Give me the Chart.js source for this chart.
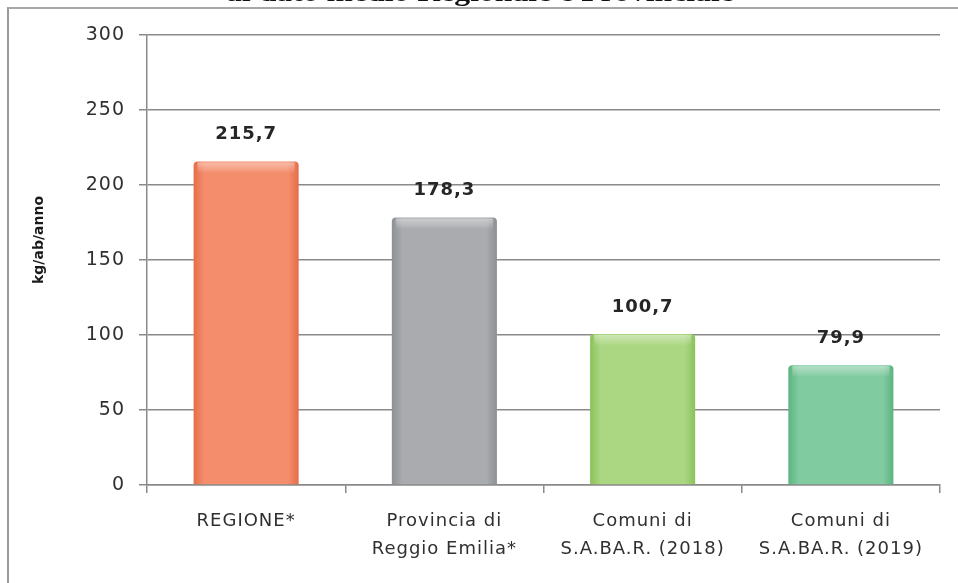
<!DOCTYPE html>
<html>
<head>
<meta charset="utf-8">
<script src="https://cdn.jsdelivr.net/npm/chart.js@4.4.0/dist/chart.umd.min.js"></script>
<style>
  body { margin: 0; background: #fff; }
  #wrap { position: relative; width: 958px; height: 583px; overflow: hidden; }
  #frame { position: absolute; left: 7px; top: 7px; right: -4px; bottom: -4px;
           border-left: 2px solid #9a9a9a; border-top: 2px solid #a8a8a8; }
  canvas { position: absolute; left: 0; top: 0; }
</style>
</head>
<body>
<div id="wrap">
  <div id="frame"></div>
  <canvas id="chart" width="958" height="583"></canvas>
</div>
<script>
// data
const categories = [
  'REGIONE*',
  ['Provincia di', 'Reggio Emilia*'],
  ['Comuni di', 'S.A.BA.R. (2018)'],
  ['Comuni di', 'S.A.BA.R. (2019)']
];
const values = [215.7, 178.3, 100.7, 79.9];
const yTicks = [0, 50, 100, 150, 200, 250, 300];
const yTitle = 'kg/ab/anno';
const topTitle = 'al dato medio Regionale e Provinciale';

// bar colours: [edge, centre]
const barColors = [
  ['#e56d49', '#f48d6c'],
  ['#8d9094', '#a9abae'],
  ['#8bc25a', '#abd682'],
  ['#5cb47f', '#80cba0']
];

const BAR_PCT = 0.53;

// horizontal gradient to mimic the bevelled bars
const barFill = (ctx) => {
  const chart = ctx.chart;
  const c = barColors[ctx.dataIndex];
  if (!chart.chartArea) return c[1];
  const xs = chart.scales.x;
  const cx = xs.getPixelForValue(ctx.dataIndex);
  const half = (xs.width / categories.length) * BAR_PCT / 2;
  const g = chart.ctx.createLinearGradient(cx - half, 0, cx + half, 0);
  g.addColorStop(0, c[0]);
  g.addColorStop(0.1, c[1]);
  g.addColorStop(0.9, c[1]);
  g.addColorStop(1, c[0]);
  return g;
};

const spacing = {
  id: 'spacing',
  beforeLayout(chart) { chart.ctx.letterSpacing = '1px'; },
  beforeDraw(chart) { chart.ctx.letterSpacing = '1px'; }
};

// top bevel, value labels, axis title and the cut-off heading
const extras = {
  id: 'extras',
  afterDatasetsDraw(chart) {
    const ctx = chart.ctx;
    const meta = chart.getDatasetMeta(0);

    ctx.save();
    meta.data.forEach((bar) => {
      const g = ctx.createLinearGradient(0, bar.y, 0, bar.y + 12);
      g.addColorStop(0, 'rgba(255,255,255,0.45)');
      g.addColorStop(1, 'rgba(255,255,255,0)');
      ctx.fillStyle = g;
      ctx.fillRect(bar.x - bar.width / 2 + 4, bar.y + 1, bar.width - 8, 12);
    });
    ctx.restore();

    ctx.save();
    ctx.font = 'bold 18px "DejaVu Sans"';
    ctx.fillStyle = '#262626';
    ctx.textAlign = 'center';
    ctx.textBaseline = 'middle';
    meta.data.forEach((bar, i) => {
      ctx.fillText(values[i].toFixed(1).replace('.', ','), bar.x, bar.y - 27);
    });
    ctx.restore();

    ctx.save();
    ctx.letterSpacing = '0px';
    ctx.font = 'bold 14px "DejaVu Sans"';
    ctx.fillStyle = '#1a1a1a';
    ctx.textAlign = 'center';
    ctx.textBaseline = 'middle';
    ctx.translate(39, 240);
    ctx.rotate(-Math.PI / 2);
    ctx.fillText(yTitle, 0, 0);
    ctx.restore();

    ctx.save();
    ctx.letterSpacing = '0px';
    ctx.font = 'bold 26px "Liberation Serif"';
    ctx.fillStyle = '#111';
    ctx.textAlign = 'center';
    ctx.textBaseline = 'alphabetic';
    ctx.translate(480, 1);
    ctx.scale(1.22, 1);
    ctx.fillText(topTitle, 0, 0);
    ctx.restore();
  }
};

new Chart(document.getElementById('chart'), {
  type: 'bar',
  data: {
    labels: categories,
    datasets: [{
      data: values,
      backgroundColor: barFill,
      borderWidth: 0,
      borderRadius: { topLeft: 4, topRight: 4 },
      borderSkipped: 'bottom',
      categoryPercentage: 1,
      barPercentage: BAR_PCT
    }]
  },
  options: {
    responsive: false,
    devicePixelRatio: 1,
    animation: false,
    layout: { padding: { left: 0, top: 35, right: 18, bottom: 0 } },
    plugins: {
      legend: { display: false },
      tooltip: { enabled: false }
    },
    scales: {
      x: {
        offset: true,
        grid: {
          offset: true,
          drawOnChartArea: false,
          drawTicks: true,
          tickLength: 8,
          color: '#8a8a8a',
          lineWidth: 1.5
        },
        border: { display: true, color: '#8a8a8a', width: 1.5 },
        ticks: {
          color: '#303030',
          font: { family: '"DejaVu Sans"', size: 18, lineHeight: 1.55 },
          padding: 14,
          maxRotation: 0,
          autoSkip: false
        },
        afterFit: (scale) => { scale.height = 98; }
      },
      y: {
        min: 0,
        max: 300,
        afterBuildTicks: (scale) => { scale.ticks = yTicks.map(v => ({ value: v })); },
        grid: {
          color: '#8a8a8a',
          lineWidth: 1.5,
          tickLength: 8
        },
        border: { display: true, color: '#8a8a8a', width: 1.5 },
        ticks: {
          color: '#303030',
          font: { family: '"DejaVu Sans"', size: 19 },
          padding: 14
        },
        afterFit: (scale) => { scale.width = 147; }
      }
    }
  },
  plugins: [spacing, extras]
});
</script>
</body>
</html>
